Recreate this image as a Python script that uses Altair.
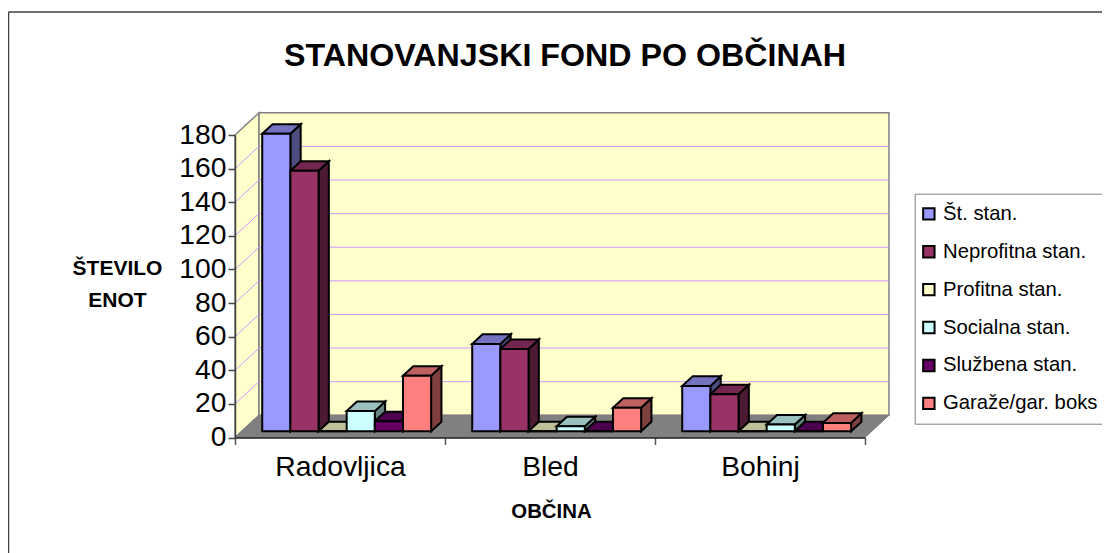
import altair as alt
import pandas as pd

title = "STANOVANJSKI FOND PO OBČINAH"
categories = ["Radovljica", "Bled", "Bohinj"]
series = ["Št. stan.", "Neprofitna stan.", "Profitna stan.", "Socialna stan.", "Službena stan.", "Garaže/gar. boks"]
values = [
    [177, 52, 27],
    [155, 49, 22],
    [0, 0, 0],
    [12, 3, 4],
    [6, 0, 0],
    [33, 14, 5],
]
front_colors = ["#9999FF", "#993366", "#FFFFCC", "#CCFFFF", "#660066", "#FF8080"]
top_colors = ["#7373BF", "#732650", "#BFBF99", "#99BFBF", "#4D004D", "#BF6060"]
side_colors = ["#4D4D80", "#4D1A33", "#808066", "#668080", "#330033", "#804040"]
value_ticks = list(range(0, 181, 20))

# plot geometry (page px)
W, H = 630, 302.5
PX_X = W / 3
PX_Y = H / 180
DX = 24 / PX_X          # full depth in category units
DY = 22.2 / PX_Y        # full depth in value units
MARGIN = 20.5 / PX_X
BW = 28.15 / PX_X
D0, D1 = 0.28, 0.71
LEFT, TOP = 227, 127
TOTAL_W, TOTAL_H = 1094, 545


def px(d):
    return d * DX


def py(d):
    return d * DY


front, side, top = [], [], []
for j, s in enumerate(series):
    for i, c in enumerate(categories):
        v = values[j][i]
        x0 = i + MARGIN + j * BW
        x1 = x0 + BW
        k = f"{j}-{i}"
        front.append(dict(series=s, x=x0 + px(D0), x2=x1 + px(D0), y=py(D0), y2=v + py(D0)))
        for d in (D0, D1):
            side.append(dict(k=k, fill=side_colors[j], x=x1 + px(d), y=py(d), y2=v + py(d)))
            top.append(dict(k=k, fill=top_colors[j], y=v + py(d), x=x0 + px(d), x2=x1 + px(d)))

x_scale = alt.Scale(domain=[0, 3], nice=False, zero=False)
y_scale = alt.Scale(domain=[0, 180], nice=False, zero=False)

label_expr = (
    "datum.value % 1 == 0 ? '' : ["
    + ",".join(f"'{c}'" for c in categories)
    + "][floor(datum.value)]"
)
x_axis = alt.Axis(
    values=[0, 0.5, 1, 1.5, 2, 2.5, 3],
    labelExpr=label_expr,
    tickOpacity={"condition": {"test": "datum.value % 1 == 0", "value": 1}, "value": 0},
    tickSize=7, tickColor="#555555", tickWidth=1.5,
    domainColor="#222222", domainWidth=1.5,
    labelFont="Liberation Sans", labelFontSize=28.3, labelColor="black",
    labelPadding=9, labelOverlap=False, labelFlush=False,
    grid=False, zindex=1,
    title="OBČINA", titleFont="Liberation Sans", titleFontSize=20.4, titleFontWeight="bold",
    titleColor="black", titleX=316, titleY=64, titleAlign="center",
)
y_axis = alt.Axis(
    values=value_ticks, tickSize=7, tickColor="#444444", tickWidth=1.5,
    domainColor="#444444", domainWidth=1.5,
    labelFont="Liberation Sans", labelFontSize=28.3, labelColor="black",
    labelPadding=2, labelOverlap=False, labelFlush=False,
    grid=False, zindex=1,
    title=["ŠTEVILO", "ENOT"], titleFont="Liberation Sans", titleFontSize=21, titleFontWeight="bold",
    titleColor="black", titleAngle=0, titleAlign="center", titleX=-118, titleY=143, titleLineHeight=32,
)

X = alt.X("x:Q", scale=x_scale, axis=x_axis)
Y = alt.Y("y:Q", scale=y_scale, axis=y_axis)

back_wall = alt.Chart(pd.DataFrame([dict(x=DX, x2=3 + DX, y=DY, y2=180 + DY)])).mark_rect(
    fill="#FFFFCC", stroke="#808080", strokeWidth=1.5
).encode(X, x2="x2:Q", y=Y, y2="y2:Q")

left_wall = alt.Chart(pd.DataFrame([dict(x=0, y=0, y2=180), dict(x=DX, y=DY, y2=180 + DY)])).mark_area(
    fill="#FFFFCC", stroke="#808080", strokeWidth=1.5
).encode(X, y=Y, y2="y2:Q")

grid_rows = []
for v in value_ticks[1:-1]:
    grid_rows += [dict(v=v, x=0, y=v), dict(v=v, x=DX, y=v + DY), dict(v=v, x=3 + DX, y=v + DY)]
grid = alt.Chart(pd.DataFrame(grid_rows)).mark_line(color="#CC99FF", strokeWidth=1).encode(
    X, Y, detail="v:N"
)

floor = alt.Chart(pd.DataFrame([dict(y=0, x=0, x2=3), dict(y=DY, x=DX, x2=3 + DX)])).mark_area(
    orient="horizontal", fill="#808080", stroke="#808080", strokeWidth=1
).encode(X, x2="x2:Q", y=Y)

sides = alt.Chart(pd.DataFrame(side)).mark_area(stroke="black", strokeWidth=2).encode(
    X, y=Y, y2="y2:Q", fill=alt.Fill("fill:N", scale=None), detail="k:N"
)
tops = alt.Chart(pd.DataFrame(top)).mark_area(orient="horizontal", stroke="black", strokeWidth=2).encode(
    X, x2="x2:Q", y=Y, fill=alt.Fill("fill:N", scale=None), detail="k:N"
)
fronts = alt.Chart(pd.DataFrame(front)).mark_rect(stroke="black", strokeWidth=2).encode(
    X, x2="x2:Q", y=Y, y2="y2:Q",
    color=alt.Color(
        "series:N",
        sort=series,
        scale=alt.Scale(domain=series, range=front_colors),
        legend=alt.Legend(
            title=None, orient="none", legendX=679.7, legendY=58.7,
            symbolType="square", symbolSize=130, symbolStrokeColor="black", symbolStrokeWidth=2,
            symbolOpacity=1, symbolOffset=-6, labelOffset=4,
            labelFont="Liberation Sans", labelFontSize=20.3, labelColor="black", labelLimit=400,
            rowPadding=16.9, padding=10, fillColor="white", strokeColor="#808080",
        ),
    ),
)

frame_left = alt.Chart(pd.DataFrame([dict(a=0)])).mark_rule(color="#404040", strokeWidth=1.5).encode(
    x=alt.value(-226.5), y=alt.value(-123), y2=alt.value(418)
)
frame_top = alt.Chart(pd.DataFrame([dict(a=0)])).mark_rule(color="#404040", strokeWidth=1.5).encode(
    x=alt.value(-226.5), x2=alt.value(870), y=alt.value(-123)
)

chart = alt.layer(
    frame_left, frame_top, left_wall, back_wall, grid, floor, sides, tops, fronts
).properties(
    width=W, height=H,
    autosize=alt.AutoSizeParams(type="none"),
    padding={"left": LEFT, "top": TOP, "right": TOTAL_W - LEFT - W, "bottom": TOTAL_H - TOP - H},
    title=alt.TitleParams(
        title, font="Liberation Sans", fontSize=32.2, fontWeight="bold", color="black",
        anchor="start", frame="group", dx=49, offset=0, dy=62,
    ),
).configure_view(stroke=None)

chart.save("out.html", embed_options={"renderer": "svg", "actions": False})
